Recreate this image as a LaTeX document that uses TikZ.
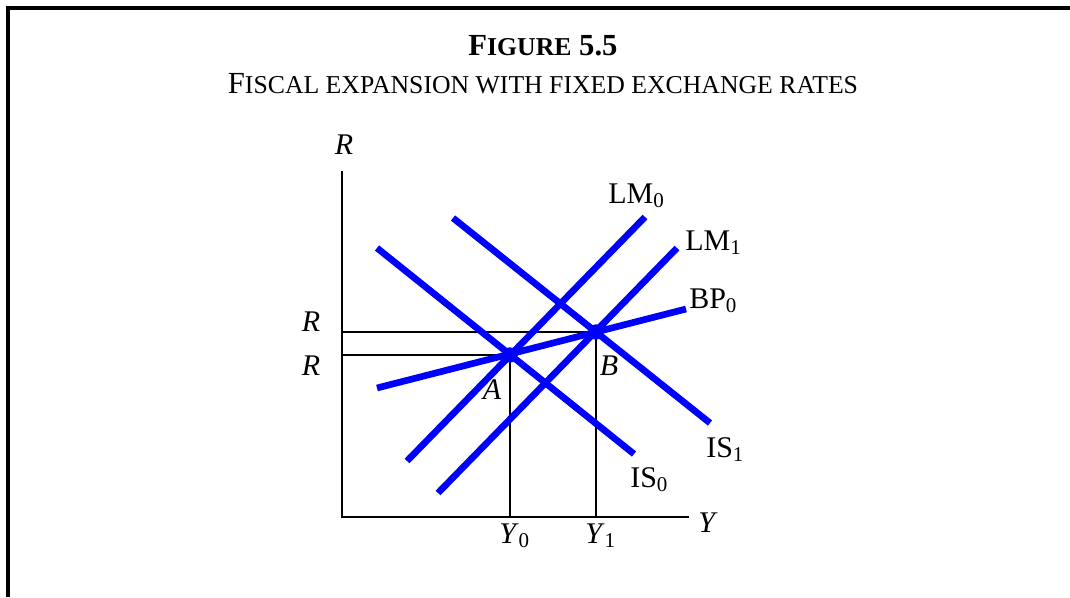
\documentclass[tikz,border=0pt]{standalone}
\usepackage{fontspec}
\setmainfont{Liberation Serif}
\newcommand\smc[1]{{\fontsize{19.3pt}{19.3pt}\selectfont #1}}
\begin{document}
\begin{tikzpicture}[x=0.75pt,y=-0.75pt,
  curve/.style={blue,line width=5pt},
  axisline/.style={black,line width=1.9pt},
  guide/.style={black,line width=1.1pt},
  lbl/.style={font=\fontsize{22.5pt}{24pt}\selectfont,inner sep=0pt},
  ttl/.style={font=\fontsize{23pt}{24pt}\selectfont,inner sep=0pt},
  dotmark/.style={circle,fill=blue,inner sep=0pt,minimum size=11.5pt}]
\useasboundingbox (0,0) rectangle (1070,597);
% frame
\draw[line width=2.3pt] (8,597) -- (8,8) -- (1070,8);
% titles
\node[ttl,anchor=base] (title) at (543,55) {\textbf{F\smc{IGURE} 5.5}};
\node[ttl,anchor=base] (subtitle) at (543,93) {F\smc{ISCAL EXPANSION WITH FIXED EXCHANGE RATES}};
% axes
\coordinate (O) at (342,517);
\coordinate (Ytop) at (342,171);
\coordinate (Xend) at (689,517);
\draw[axisline] (Ytop) -- (O) -- (Xend);
% equilibria
\coordinate (A) at (510,355);
\coordinate (B) at (596,332);
\coordinate (RA) at (342,355);
\coordinate (RB) at (342,332);
\coordinate (YA) at (510,517);
\coordinate (YB) at (596,517);
\draw[guide] (RB) -- (B) -- (YB);
\draw[guide] (RA) -- (A) -- (YA);
% curves
\coordinate (is0a) at (377,248);  \coordinate (is0b) at (634,454);
\coordinate (is1a) at (453,218);  \coordinate (is1b) at (710,423);
\coordinate (lm0a) at (407,461);  \coordinate (lm0b) at (645,217);
\coordinate (lm1a) at (438,493);  \coordinate (lm1b) at (677,248);
\coordinate (bpa) at (377,388);   \coordinate (bpb) at (686,309);
\draw[curve] (is0a) -- (is0b);
\draw[curve] (is1a) -- (is1b);
\draw[curve] (lm0a) -- (lm0b);
\draw[curve] (lm1a) -- (lm1b);
\draw[curve] (bpa) -- (bpb);
\node[dotmark] (dotA) at (A) {};
\node[dotmark] (dotB) at (B) {};
% labels
\node[lbl] (Rlab) at (344,145) {\textit{R}};
\node[lbl] (R1) at (311,322) {\textit{R}};
\node[lbl] (R0) at (311,366) {\textit{R}};
\node[lbl] (Alab) at (492,390) {\textit{A}};
\node[lbl] (Blab) at (609,366) {\textit{B}};
\node[lbl,anchor=base west] (Y0lab) at (499,543) {\textit{Y}\textsubscript{0}};
\node[lbl,anchor=base west] (Y1lab) at (585,543) {\textit{Y}\textsubscript{1}};
\node[lbl] (Ylab) at (708,523) {\textit{Y}};
\node[lbl,anchor=base west] (LM0lab) at (608,203) {LM\textsubscript{0}};
\node[lbl,anchor=base west] (LM1lab) at (685,250) {LM\textsubscript{1}};
\node[lbl,anchor=base west] (BPlab) at (689,308) {BP\textsubscript{0}};
\node[lbl,anchor=base west] (IS1lab) at (706,457) {IS\textsubscript{1}};
\node[lbl,anchor=base west] (IS0lab) at (630,487) {IS\textsubscript{0}};
\end{tikzpicture}
\end{document}
